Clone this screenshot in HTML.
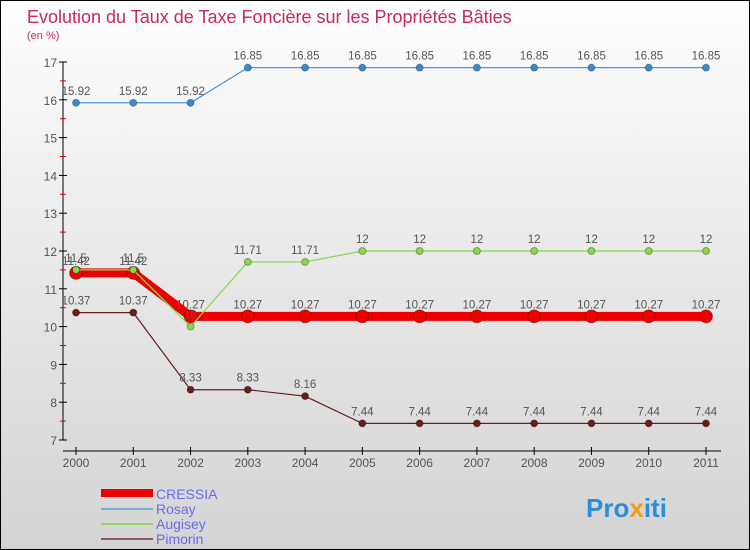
<!DOCTYPE html>
<html><head><meta charset="utf-8"><style>
body{margin:0}
#c{position:relative;width:748px;height:548px;border:1px solid #000;background:linear-gradient(#ffffff,#f0f0f0 30%,#d4d4d4);font-family:"Liberation Sans",sans-serif;overflow:hidden}
svg{position:absolute;left:0;top:0}
</style></head><body>
<div id="c">
<svg id="s" width="748" height="548">
<text x="26" y="22" font-size="18" fill="#c8285a">Evolution du Taux de Taxe Foncière sur les Propriétés Bâties</text>
<text x="26" y="38" font-size="11" fill="#c8285a">(en %)</text>
<g id="axes"></g><g id="series"></g>
<g>
<rect x="100" y="488" width="52" height="8" fill="#e00"/>
<text x="155" y="498" font-size="14" fill="#6b6bf0">CRESSIA</text>
<rect x="100" y="507" width="52" height="2" fill="#7aaed8"/>
<text x="155" y="513" font-size="14" fill="#6b6bf0">Rosay</text>
<rect x="100" y="522" width="52" height="2" fill="#90d860"/>
<text x="155" y="528" font-size="14" fill="#6b6bf0">Augisey</text>
<rect x="100" y="537" width="52" height="2" fill="#8b5a5a"/>
<text x="155" y="543" font-size="14" fill="#6b6bf0">Pimorin</text>
</g>
<text x="585" y="516" font-size="26" font-weight="bold" fill="#2a8fd8">Pro<tspan fill="#f39c12">x</tspan>iti</text>
</svg></div>
<script>
const years=[2000,2001,2002,2003,2004,2005,2006,2007,2008,2009,2010,2011];
const yTicks=[7,8,9,10,11,12,13,14,15,16,17];
const rosay=[15.92,15.92,15.92,16.85,16.85,16.85,16.85,16.85,16.85,16.85,16.85,16.85];
const augisey=[11.5,11.5,10,11.71,11.71,12,12,12,12,12,12,12];
const pimorin=[10.37,10.37,8.33,8.33,8.16,7.44,7.44,7.44,7.44,7.44,7.44,7.44];
const cressia=[11.42,11.42,10.27,10.27,10.27,10.27,10.27,10.27,10.27,10.27,10.27,10.27];
const NS="http://www.w3.org/2000/svg";
const X=i=>75+i*(705-75)/11;
const Y=v=>439-(v-7)*37.8;
function mk(tag,attrs,parent,txt){const e=document.createElementNS(NS,tag);for(const k in attrs)e.setAttribute(k,attrs[k]);if(txt!==undefined)e.textContent=txt;parent.appendChild(e);return e;}
const ax=document.getElementById('axes');
let l=mk('line',{x1:62,y1:Y(17),x2:62,y2:Y(7),stroke:'#000'},ax);


l=mk('line',{x1:62,y1:450,x2:720,y2:450,stroke:'#000'},ax);


yTicks.forEach(v=>{
 mk('line',{x1:58,y1:Y(v),x2:66,y2:Y(v),stroke:'#000'},ax);
 if(v<17)mk('line',{x1:59,y1:Y(v+0.5),x2:65,y2:Y(v+0.5),stroke:'#e00'},ax);
 const t=mk('text',{x:56,y:Y(v)+5,'font-size':12,fill:'#555','text-anchor':'end'},ax,v);
 
 
});
years.forEach((yr,i)=>{
 mk('line',{x1:X(i),y1:446,x2:X(i),y2:454,stroke:'#000'},ax);
 const t=mk('text',{x:X(i),y:466,'font-size':12,fill:'#555','text-anchor':'middle'},ax,yr);
 
 
});
const sg=document.getElementById('series');
function draw(name,data,color,w,r,labels){
 const g=mk('g',{},sg);
 
 
 const p=mk('polyline',{points:data.map((v,i)=>X(i)+','+Y(v)).join(' '),fill:'none',stroke:color,'stroke-width':w},g);
 
 
 data.forEach((v,i)=>{
  const c=mk('circle',{cx:X(i),cy:Y(v),r:r,fill:color,stroke:'rgba(0,0,0,0.3)'},g);
  
  
  if(labels){const t=mk('text',{x:X(i),y:Y(v)-8,'font-size':11.5,fill:'#555','text-anchor':'middle'},g,v);
  
  }
 });
}
draw('pimorin',pimorin,'#6b1c1c',1.2,3.5,true);
draw('cressia',cressia,'#ee0000',9,6.5,true);
draw('augisey',augisey,'#88d848',1.2,3.5,true);
draw('rosay',rosay,'#3a8ad0',1.2,3.5,true);
</script>
</body></html>
